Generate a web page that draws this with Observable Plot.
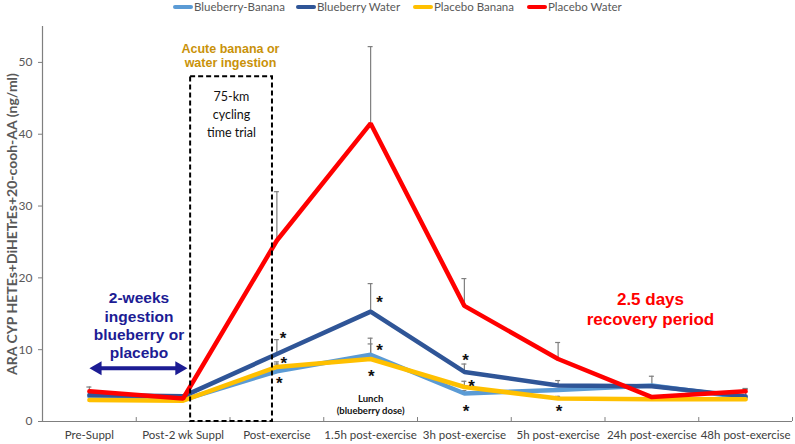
<!DOCTYPE html>
<html><head><meta charset="utf-8">
<script src="https://cdn.jsdelivr.net/npm/d3@7"></script>
<script src="https://cdn.jsdelivr.net/npm/@observablehq/plot@0.6"></script>
<style>
body{margin:0;background:#fff;}
#wrap{position:relative;width:795px;height:444px;}
#legend{position:absolute;top:0;left:0;width:795px;height:13px;font:11.5px Lato, sans-serif;color:#595959;z-index:2;}
.item{position:absolute;top:0;display:flex;align-items:center;white-space:nowrap;line-height:13px;}
.sw{display:inline-block;width:20px;height:4px;border-radius:2px;margin-right:1px;}
</style></head><body>
<div id="wrap"><div id="legend"></div><div id="chart"></div></div>
<script>
// ---- data ----
const categories = ["Pre-Suppl","Post-2 wk Suppl","Post-exercise","1.5h post-exercise","3h post-exercise","5h post-exercise","24h post-exercise","48h post-exercise"];
const seriesNames = ["Blueberry-Banana","Blueberry Water","Placebo Banana","Placebo Water"];
const seriesColors = ["#5B9BD5","#2F5597","#FFC000","#FF0000"];
const blueberryBanana = [3.5, 3.0, 7.0, 9.3, 3.9, 4.4, 5.0, 3.3];
const blueberryWater  = [3.7, 3.5, 9.4, 15.3, 6.9, 5.0, 4.9, 3.5];
const placeboBanana   = [3.0, 2.9, 7.6, 8.7, 4.8, 3.2, 3.1, 3.1];
const placeboWater    = [4.2, 3.2, 25.2, 41.5, 16.1, 8.7, 3.4, 4.2];
// upper end of error bars (null = none visible)
const blueberryBananaErr = [null, null, 8.3, 11.6, 4.3, null, 6.3, 4.5];
const blueberryWaterErr  = [null, null, 11.4, 19.2, 8.0, 5.7, null, 4.6];
const placeboBananaErr   = [null, null, 8.0, 10.8, 5.6, 3.5, null, null];
const placeboWaterErr    = [4.8, null, 32.0, 52.2, 19.9, 11.0, null, 4.5];
const yTicks = [0, 10, 20, 30, 40, 50];
const yLabel = "ARA CYP HETEs+DiHETrEs+20-cooh-AA (ng/ml)";
// significance asterisks (category position, value)
const starX = [2.067, 2.074, 2.025, 3.095, 3.095, 3.006, 4.012, 4.076, 4.019, 5.01];
const starY = [12.2, 8.8, 5.95, 17.3, 10.6, 6.9, 9.2, 5.6, 2.1, 2.1];
// annotations
const boxX = [1.08, 1.953]; const boxY = [0, 48.0];
const arrowX = [0.087, 0.96]; const arrowY = 7.4;
const noteAcute = {x: 1.505, y: 50.97, text: "Acute banana or\nwater ingestion"};
const noteTrial = {x: 1.516, y: 42.9, text: "75-km\ncycling\ntime trial"};
const noteWeeks = {x: 0.529, y: 13.44, text: "2-weeks\ningestion\nblueberry or\nplacebo"};
const noteDays  = {x: 5.985, y: 15.74, text: "2.5 days\nrecovery period"};
const noteLunch = {x: 3.0, y: 2.42, text: "Lunch\n(blueberry dose)"};

// ---- build ----
const values = [blueberryBanana, blueberryWater, placeboBanana, placeboWater];
const errs = [blueberryBananaErr, blueberryWaterErr, placeboBananaErr, placeboWaterErr];
const rows = seriesNames.flatMap((s, k) => values[k].map((v, i) => ({series: s, i, v, top: errs[k][i]})));
const errRows = rows.filter(d => d.top != null);
const stars = starX.map((x, j) => ({x, y: starY[j]}));
const gray = "#7f7f7f";
const sansA = "'Liberation Sans', Arial, sans-serif";
const sansC = "Lato, sans-serif";

const chart = Plot.plot({
  width: 795, height: 444,
  marginTop: 26, marginBottom: 23, marginLeft: 42, marginRight: 3,
  style: {fontFamily: sansC, background: "white", color: "#595959"},
  x: {domain: [-0.5, categories.length - 0.5]},
  y: {domain: [0, 55]},
  color: {domain: seriesNames, range: seriesColors},
  marks: [
    Plot.axisY({ticks: yTicks, tickSize: 4, tickPadding: 6, label: null, fontSize: 12, fill: "#595959", stroke: gray}),
    Plot.axisX({ticks: d3.range(categories.length), tickFormat: i => categories[i], tickSize: 0, tickPadding: 9, label: null, fontSize: 11.5, fill: "#404040"}),
    Plot.ruleX(d3.range(categories.length + 1).map(i => i - 0.5), {y1: 0, y2: 0.55, stroke: gray}),
    Plot.ruleX([-0.5], {stroke: gray, strokeWidth: 1.2}),
    Plot.ruleY([0], {stroke: gray, strokeWidth: 1.2}),
    Plot.text([yLabel], {frameAnchor: "left", textAnchor: "middle", dx: -30, rotate: -90, text: d => d, fontSize: 14, fontWeight: "bold", fill: "#595959"}),
    // error bars
    Plot.ruleX(errRows, {x: "i", y1: "v", y2: "top", stroke: gray, strokeWidth: 1.2}),
    Plot.ruleY(errRows, {y: "top", x1: "i", x2: "i", insetLeft: -2.5, insetRight: -2.5, stroke: gray, strokeWidth: 1.2}),
    // series lines
    Plot.line(rows, {x: "i", y: "v", z: "series", stroke: "series", strokeWidth: 4.5, strokeLinejoin: "miter"}),
    // dashed box
    Plot.rect([0], {x1: () => boxX[0], x2: () => boxX[1], y1: () => boxY[0], y2: () => boxY[1], fill: "none", stroke: "black", strokeWidth: 2, strokeDasharray: "5,3"}),
    // double arrow
    Plot.line(arrowX.map(x => ({x, y: arrowY})), {x: "x", y: "y", stroke: "#1c1c94", strokeWidth: 4}),
    Plot.dot(arrowX.map((x, j) => ({x, y: arrowY, r: j ? 90 : -90})), {x: "x", y: "y", symbol: "triangle", r: 5.2, fill: "#1c1c94", stroke: "none", rotate: "r"}),
    // stars
    Plot.text(stars, {x: "x", y: "y", text: () => "*", fontSize: 17, fontWeight: "bold", fill: "#111", dy: 5, fontFamily: sansA}),
    // notes
    Plot.text([noteAcute], {x: "x", y: "y", text: "text", fontSize: 12.5, fontWeight: "bold", fill: "#C9920A", lineHeight: 1.12, fontFamily: sansA}),
    Plot.text([noteTrial], {x: "x", y: "y", text: "text", fontSize: 12.5, fill: "#111", lineHeight: 1.42}),
    Plot.text([noteWeeks], {x: "x", y: "y", text: "text", fontSize: 15.5, fontWeight: "bold", fill: "#1c1c94", lineHeight: 1.18, fontFamily: sansA}),
    Plot.text([noteDays], {x: "x", y: "y", text: "text", fontSize: 17, fontWeight: "bold", fill: "#FF0000", lineHeight: 1.18, fontFamily: sansA}),
    Plot.text([noteLunch], {x: "x", y: "y", text: "text", fontSize: 9.5, fontWeight: "bold", fill: "#111", lineHeight: 1.26})
  ]
});
document.getElementById("chart").appendChild(chart);

// legend
const legendLeft = [173, 296, 413, 527];
const legend = document.getElementById("legend");
seriesNames.forEach((s, k) => {
  const it = document.createElement("div");
  it.className = "item";
  it.style.left = legendLeft[k] + "px";
  it.innerHTML = `<span class="sw" style="background:${seriesColors[k]}"></span><span>${s}</span>`;
  legend.appendChild(it);
});
</script>
</body></html>
